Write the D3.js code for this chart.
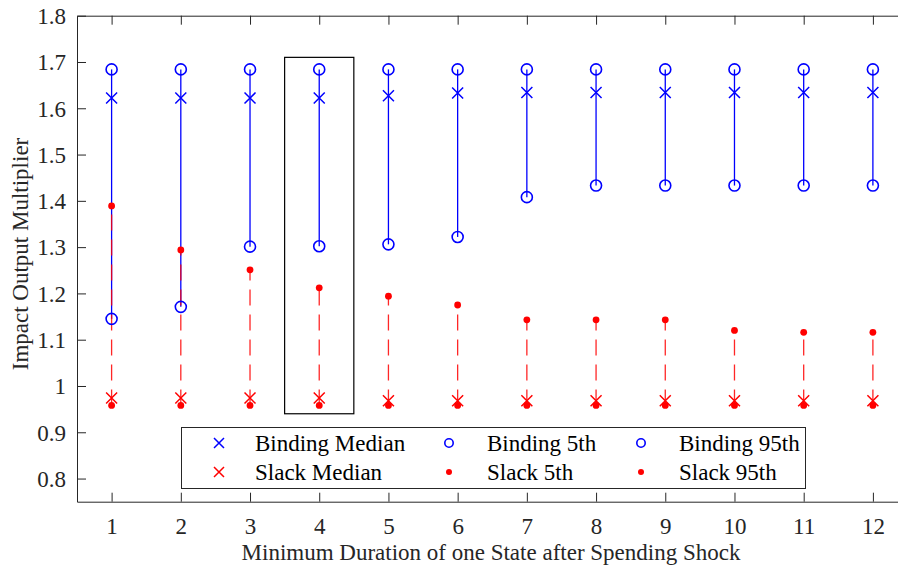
<!DOCTYPE html>
<html lang="en">
<head>
<meta charset="utf-8">
<title>Impact Output Multiplier</title>
<script src="https://d3js.org/d3.v7.min.js"></script>
<style>
  body { margin: 0; background: #fff; }
  svg { display: block; font-family: "Liberation Serif", "Times New Roman", serif; }
</style>
</head>
<body>
<div id="main"></div>
<script>
// chart data
var durations = [1, 2, 3, 4, 5, 6, 7, 8, 9, 10, 11, 12];
var bindingMedian = [1.622, 1.622, 1.622, 1.622, 1.627, 1.633, 1.634, 1.634, 1.634, 1.634, 1.634, 1.634];
var binding5th = [1.145, 1.171, 1.301, 1.302, 1.306, 1.322, 1.408, 1.433, 1.433, 1.433, 1.433, 1.433];
var binding95th = [1.684, 1.684, 1.684, 1.684, 1.684, 1.684, 1.684, 1.684, 1.684, 1.684, 1.684, 1.684];
var slackMedian = [0.974, 0.974, 0.974, 0.974, 0.968, 0.968, 0.968, 0.968, 0.968, 0.968, 0.968, 0.968];
var slack5th = [0.958, 0.958, 0.958, 0.958, 0.958, 0.958, 0.958, 0.958, 0.958, 0.958, 0.958, 0.958];
var slack95th = [1.389, 1.294, 1.251, 1.212, 1.194, 1.175, 1.143, 1.143, 1.143, 1.120, 1.116, 1.116];
var yTicks = [0.8, 0.9, 1, 1.1, 1.2, 1.3, 1.4, 1.5, 1.6, 1.7, 1.8];
var yTickLabels = ["0.8", "0.9", "1", "1.1", "1.2", "1.3", "1.4", "1.5", "1.6", "1.7", "1.8"];
var highlight = { x0: 3.5, x1: 4.5, y0: 0.94, y1: 1.71 };
var legendRows = [
  [["x", "#0000ff", "Binding Median"], ["o", "#0000ff", "Binding 5th"], ["o", "#0000ff", "Binding 95th"]],
  [["x", "#ff0000", "Slack Median"], ["dot", "#ff0000", "Slack 5th"], ["dot", "#ff0000", "Slack 95th"]]
];

var width = 898, height = 567;
var plotLeft = 77, plotRight = 907.5, plotTop = 15.7, plotBottom = 501.7;
var axisColor = "#262626";
var blue = "#0000ff", red = "#ff0000";
var fontSize = "23px";

var svg = d3.select("#main").append("svg")
    .attr("width", width)
    .attr("height", height);

var x = d3.scaleLinear().domain([0.5, 12.5]).range([plotLeft, plotRight]);
var y = d3.scaleLinear().domain([0.75, 1.8]).range([plotBottom, plotTop]);

// axes (box with inward ticks)
function styleAxis(g) {
  g.select(".domain").attr("stroke", axisColor).attr("stroke-width", 1);
  g.selectAll(".tick line").attr("stroke", axisColor);
  g.selectAll(".tick text")
    .attr("fill", axisColor)
    .attr("font-size", fontSize)
    .attr("font-family", "Liberation Serif, Times New Roman, serif");
}

svg.append("g")
    .attr("transform", "translate(0," + plotBottom + ")")
    .call(d3.axisBottom(x).tickValues(durations).tickSizeInner(-9).tickSizeOuter(0).tickPadding(16))
    .call(styleAxis);

svg.append("g")
    .attr("transform", "translate(0," + plotTop + ")")
    .call(d3.axisTop(x).tickValues(durations).tickSizeInner(-9).tickSizeOuter(0).tickFormat(""))
    .call(styleAxis);

svg.append("g")
    .attr("transform", "translate(" + plotLeft + ",0)")
    .call(d3.axisLeft(y).tickValues(yTicks).tickSizeInner(-9).tickSizeOuter(0).tickPadding(11)
      .tickFormat(function(d, i) { return yTickLabels[i]; }))
    .call(styleAxis)
    .selectAll(".tick text").attr("dy", "0.34em");

svg.append("g")
    .attr("transform", "translate(" + plotRight + ",0)")
    .call(d3.axisRight(y).tickValues(yTicks).tickSizeInner(-9).tickSizeOuter(0).tickFormat(""))
    .call(styleAxis);

// axis labels
svg.append("text")
    .attr("x", 491)
    .attr("y", 560)
    .attr("text-anchor", "middle")
    .attr("font-size", fontSize)
    .attr("fill", axisColor)
    .text("Minimum Duration of one State after Spending Shock");

svg.append("text")
    .attr("transform", "translate(28," + 254 + ") rotate(-90)")
    .attr("text-anchor", "middle")
    .attr("font-size", fontSize)
    .attr("fill", axisColor)
    .text("Impact Output Multiplier");

// range lines
var idx = d3.range(durations.length);

svg.append("g").selectAll("line")
    .data(idx).enter().append("line")
    .attr("x1", function(i) { return x(durations[i]); })
    .attr("x2", function(i) { return x(durations[i]); })
    .attr("y1", function(i) { return y(binding5th[i]); })
    .attr("y2", function(i) { return y(binding95th[i]); })
    .attr("stroke", blue)
    .attr("stroke-width", 1.3);

svg.append("g").selectAll("line")
    .data(idx).enter().append("line")
    .attr("x1", function(i) { return x(durations[i]); })
    .attr("x2", function(i) { return x(durations[i]); })
    .attr("y1", function(i) { return y(slack5th[i]); })
    .attr("y2", function(i) { return y(slack95th[i]); })
    .attr("stroke", red)
    .attr("stroke-opacity", 0.85)
    .attr("stroke-width", 1.3)
    .attr("stroke-dasharray", "16,9");

// markers
function drawX(g, cx, cy, s, color) {
  g.append("path")
    .attr("d", "M" + (cx - s) + "," + (cy - s) + "L" + (cx + s) + "," + (cy + s) +
               "M" + (cx - s) + "," + (cy + s) + "L" + (cx + s) + "," + (cy - s))
    .attr("stroke", color)
    .attr("stroke-width", 1.5)
    .attr("fill", "none");
}
function drawCircle(g, cx, cy, r, color) {
  g.append("circle")
    .attr("cx", cx).attr("cy", cy).attr("r", r)
    .attr("fill", "none")
    .attr("stroke", color)
    .attr("stroke-width", 1.6);
}
function drawDot(g, cx, cy, r, color) {
  g.append("circle")
    .attr("cx", cx).attr("cy", cy).attr("r", r)
    .attr("fill", color);
}

var marks = svg.append("g");
idx.forEach(function(i) {
  var cx = x(durations[i]);
  drawX(marks, cx, y(bindingMedian[i]), 5.5, blue);
  drawCircle(marks, cx, y(binding5th[i]), 5.5, blue);
  drawCircle(marks, cx, y(binding95th[i]), 5.5, blue);
  drawX(marks, cx, y(slackMedian[i]), 5.5, red);
  drawDot(marks, cx, y(slack5th[i]), 3.4, red);
  drawDot(marks, cx, y(slack95th[i]), 3.4, red);
});

// highlight box around duration 4
svg.append("rect")
    .attr("x", x(highlight.x0))
    .attr("y", y(highlight.y1))
    .attr("width", x(highlight.x1) - x(highlight.x0))
    .attr("height", y(highlight.y0) - y(highlight.y1))
    .attr("fill", "none")
    .attr("stroke", "#000")
    .attr("stroke-width", 1.2);

// legend
var legend = svg.append("g");
legend.append("rect")
    .attr("x", 181.5).attr("y", 427.5)
    .attr("width", 624).attr("height", 61)
    .attr("fill", "#fff")
    .attr("stroke", axisColor)
    .attr("stroke-width", 1);

var markerX = [219, 449, 641];
var textX = [255, 487, 679];
var rowY = [443, 472];
legendRows.forEach(function(row, r) {
  row.forEach(function(item, c) {
    var mx = markerX[c], my = rowY[r];
    if (item[0] === "x") drawX(legend, mx, my, 5, item[1]);
    else if (item[0] === "o") drawCircle(legend, mx, my, 4.2, item[1]);
    else drawDot(legend, mx, my, 3, item[1]);
    legend.append("text")
      .attr("x", textX[c])
      .attr("y", my)
      .attr("dy", "0.34em")
      .attr("font-size", fontSize)
      .attr("fill", "#000")
      .text(item[2]);
  });
});
</script>
</body>
</html>
